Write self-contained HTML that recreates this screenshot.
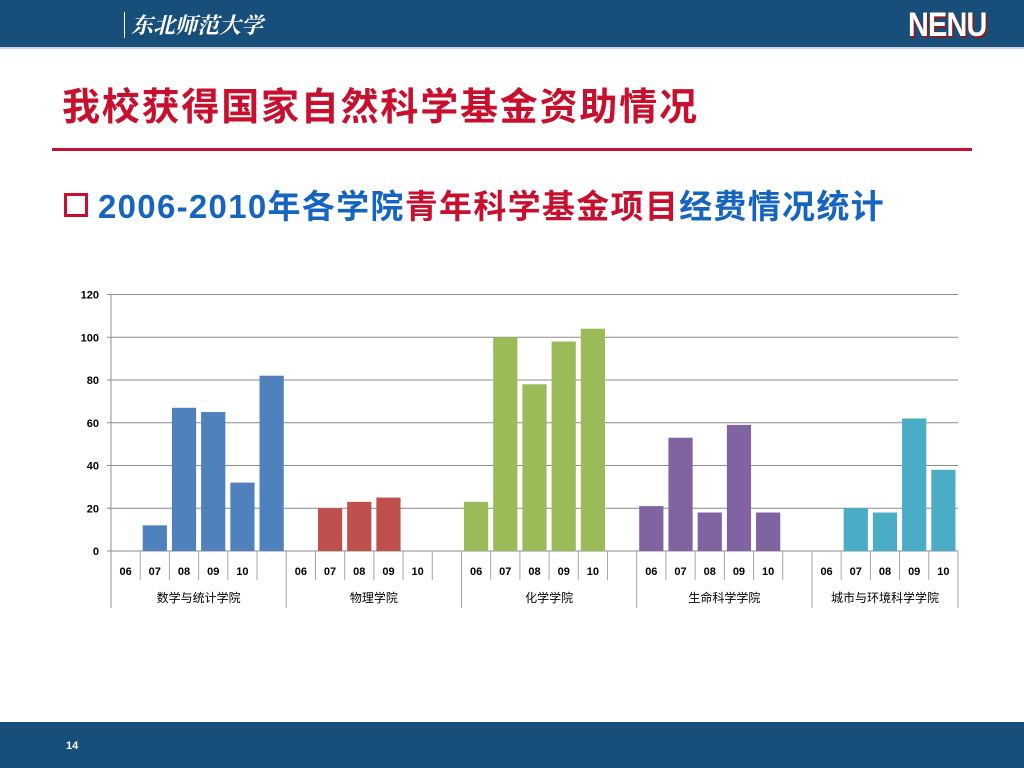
<!DOCTYPE html>
<html><head><meta charset="utf-8"><style>
body{margin:0;width:1024px;height:768px;background:#fff;position:relative;overflow:hidden;font-family:"Liberation Sans","Noto Sans CJK SC",sans-serif}
.hdr{position:absolute;left:0;top:0;width:1024px;height:47px;background:#174f7a;border-bottom:2px solid #c9d6e2}
.ftr{position:absolute;left:0;top:722px;width:1024px;height:46px;background:#174f7a}
</style></head><body>
<div class="hdr">
 <div style="position:absolute;left:124px;top:12px;border-left:1px solid #fff;padding-left:6px;color:#fff;font:italic bold 22px 'Noto Serif CJK SC',serif;line-height:26px">东北师范大学</div>
 <div style="position:absolute;left:908px;top:6px;color:#fff;font:bold 34px 'Liberation Sans',sans-serif;letter-spacing:-1px;text-shadow:2px 2px 0 #8b1a1a;transform:scaleX(0.85);transform-origin:left">NENU</div>
</div>
<div style="position:absolute;left:62px;top:86px;font-size:38px;letter-spacing:1.8px;font-weight:bold;color:#c8102e;line-height:44px;white-space:nowrap">我校获得国家自然科学基金资助情况</div>
<div style="position:absolute;left:52px;top:148px;width:920px;height:3px;background:#c8102e"></div>
<div style="position:absolute;left:64px;top:187px;font-size:33px;letter-spacing:1.3px;font-weight:bold;line-height:40px;white-space:nowrap">
 <span style="display:inline-block;width:18px;height:18px;border:3px solid #c8102e;vertical-align:1px;margin-right:10px"></span><span style="color:#1565c0">2006-2010年各学院</span><span style="color:#c8102e">青年科学基金项目</span><span style="color:#1565c0">经费情况统计</span></div>
<svg id="chart" width="1024" height="768" style="position:absolute;left:0;top:0" xmlns="http://www.w3.org/2000/svg"></svg>
<div class="ftr"><div style="position:absolute;left:66px;top:18px;color:#fff;font-size:11px;font-weight:bold">14</div></div>
<script>
const groups=["数学与统计学院","物理学院","化学学院","生命科学学院","城市与环境科学学院"];
const years=["06","07","08","09","10"];
const colors=["#4f81bd","#c0504d","#9bbb59","#8064a2","#4bacc6"];
const vMath=[0,12,67,65,32,82];
const vPhys=[0,20,23,25,0,0];
const vChem=[23,100,78,98,104,0];
const vLife=[21,53,18,59,18,0];
const vUrban=[0,20,18,62,38];
const series=[vMath,vPhys,vChem,vLife,vUrban];
const yTicks=[0,20,40,60,80,100,120];
const NS="http://www.w3.org/2000/svg";
const svg=document.getElementById('chart');
const L=111,R=958,T=294.5,B=551,nSlots=29,sw=(R-L)/nSlots;
const y=v=>B-(v/120)*(B-T);
const x=i=>L+i*sw;
function mk(t,a){const e=document.createElementNS(NS,t);for(const k in a)e.setAttribute(k,a[k]);svg.appendChild(e);return e;}
yTicks.forEach(t=>{
 const g=mk('line',{x1:L-4,x2:R,y1:y(t),y2:y(t),stroke:'#8c8c8c','stroke-width':1});
 
 
 const tx=mk('text',{x:L-12,y:y(t)+4,'text-anchor':'end','font-size':11,'font-weight':'bold','font-family':'Liberation Sans'});
 tx.textContent=t;
 
 
});
const ax=mk('line',{x1:L,x2:L,y1:T,y2:608,stroke:'#8c8c8c'});


let slot=0;
series.forEach((vals,gi)=>{
 const start=slot;
 vals.forEach((v,j)=>{
  const i=slot+j;
  if(v>0){
   const r=mk('rect',{x:x(i)+2.5,y:y(v),width:sw-5,height:B-y(v),fill:colors[gi]});
   
   
  }
  if(j<years.length){
   const tx=mk('text',{x:x(i)+sw/2,y:575,'text-anchor':'middle','font-size':11,'font-weight':'bold','font-family':'Liberation Sans'});
   tx.textContent=years[j];
   
   
  }
  if(j>0){
   const s=mk('line',{x1:x(i),x2:x(i),y1:B,y2:580,stroke:'#a6a6a6'});
   
   
  }
 });
 slot+=vals.length;
 const gs=mk('line',{x1:x(slot),x2:x(slot),y1:B,y2:608,stroke:'#a6a6a6'});
 
 
 const gl=mk('text',{x:(x(start)+x(slot))/2,y:602,'text-anchor':'middle','font-size':12,'font-family':'Noto Sans CJK SC, sans-serif'});
 gl.textContent=groups[gi];
 
 
});
</script>
</body></html>
